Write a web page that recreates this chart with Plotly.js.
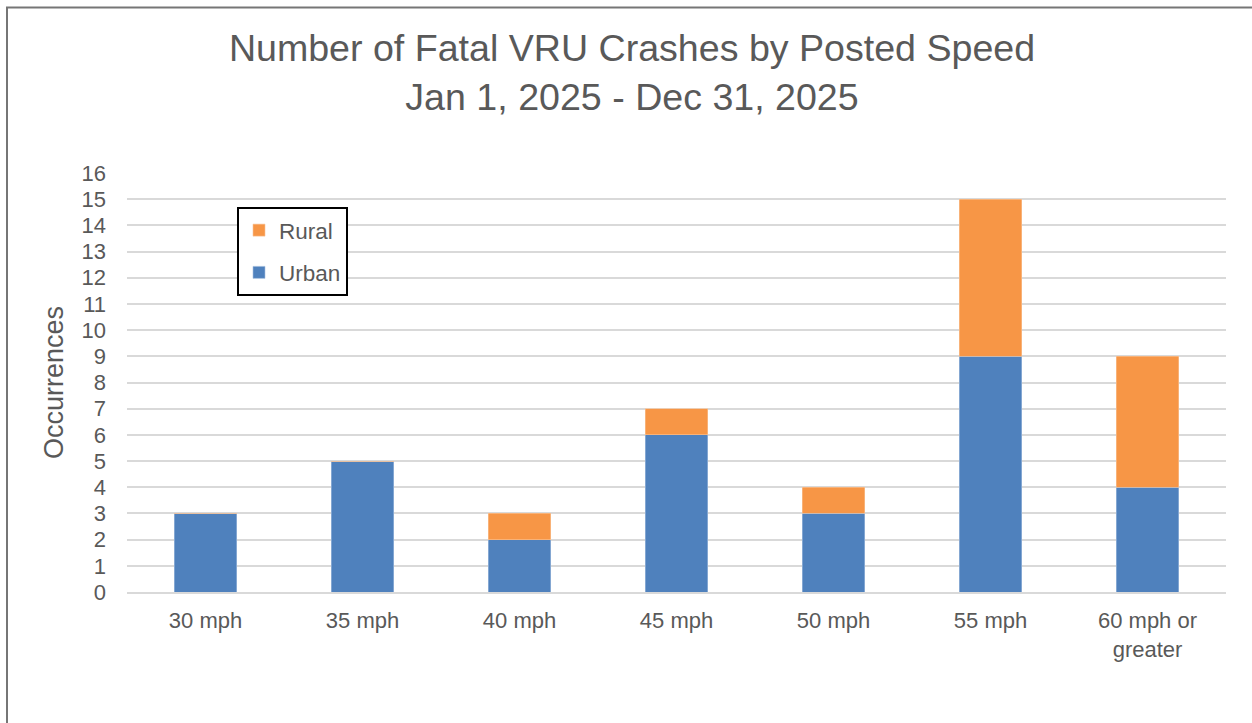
<!DOCTYPE html>
<html>
<head>
<meta charset="utf-8">
<script src="https://cdn.plot.ly/plotly-3.0.1.min.js"></script>
<style>html,body{margin:0;padding:0;background:#fff;}#chart{width:1252px;height:723px;}</style>
</head>
<body>
<div id="chart"></div>
<script>
const categories = ["30 mph", "35 mph", "40 mph", "45 mph", "50 mph", "55 mph", "60 mph or<br>greater"];
const urbanValues = [3, 5, 2, 6, 3, 9, 4];
const ruralValues = [0, 0, 1, 1, 1, 6, 5];
const yTickValues = [0,1,2,3,4,5,6,7,8,9,10,11,12,13,14,15,16];

const textColor = "#595959";
const fontFamily = "Liberation Sans, Arial, sans-serif";

const traces = [
  {
    type: "bar", name: "Urban", x: categories, y: urbanValues,
    marker: {color: "#4F81BD", line: {color: "#A9C1E0", width: 0.6}},
    legendgroup: "u", legendrank: 2, hoverinfo: "x+y+name"
  },
  {
    type: "bar", name: "Rural", x: categories, y: ruralValues,
    marker: {color: "#F79646", line: {color: "#F9C49A", width: 0.6}},
    legendgroup: "r", legendrank: 1, hoverinfo: "x+y+name"
  }
];

const W = 1252, H = 723, L = 127, R = 26, T = 173, B = 131;
const pw = W - L - R, ph = H - T - B;

const layout = {
  width: W, height: H,
  paper_bgcolor: "#ffffff", plot_bgcolor: "#ffffff",
  margin: {l: L, r: R, t: T, b: B, pad: 0},
  font: {family: fontFamily, color: textColor, size: 22},
  title: {
    text: "Number of Fatal VRU Crashes by Posted Speed<br>Jan 1, 2025 - Dec 31, 2025",
    font: {family: fontFamily, size: 37.6, color: textColor},
    x: 632 / W, xanchor: "center", xref: "container",
    y: 1 - 61 / H, yanchor: "top", yref: "container"
  },
  barmode: "stack",
  bargap: 0.6,
  showlegend: true,
  legend: {
    x: (237 - L) / pw, xanchor: "left",
    y: (H - B - 207) / ph, yanchor: "top",
    bordercolor: "#000000", borderwidth: 2, bgcolor: "#ffffff",
    traceorder: "grouped", tracegroupgap: 10,
    font: {family: fontFamily, size: 22.5, color: textColor}
  },
  xaxis: {
    type: "category",
    showgrid: false, zeroline: false,
    showline: true, linecolor: "#D9D9D9", linewidth: 2,
    ticks: "", tickfont: {family: fontFamily, size: 22, color: textColor},
    ticklabelstandoff: 8,
    fixedrange: true
  },
  yaxis: {
    range: [0, 16], tickmode: "array", tickvals: yTickValues,
    ticktext: yTickValues.map(String),
    showgrid: true, gridcolor: "#D9D9D9", gridwidth: 2,
    zeroline: false, showline: false, ticks: "",
    tickfont: {family: fontFamily, size: 22, color: textColor},
    ticklabelstandoff: 20,
    title: {text: "Occurrences", font: {family: fontFamily, size: 27, color: textColor}, standoff: 10},
    fixedrange: true
  },
  shapes: [
    {
      type: "rect", xref: "paper", yref: "paper",
      x0: (7 - L) / pw, x1: (1262 - L) / pw,
      y0: (H - B - 740) / ph, y1: (H - B - 7.5) / ph,
      line: {color: "#767676", width: 2}, fillcolor: "rgba(0,0,0,0)", layer: "below"
    }
  ]
};

Plotly.newPlot("chart", traces, layout, {displayModeBar: false, staticPlot: true});
</script>
</body>
</html>
